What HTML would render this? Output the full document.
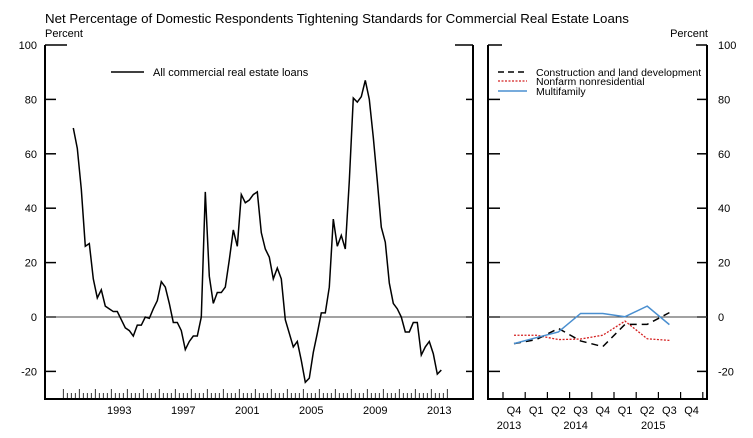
<!DOCTYPE html>
<html><head><meta charset="utf-8"><style>
body{margin:0;background:#fff;}
svg{display:block;font-family:"Liberation Sans",Arial,sans-serif;}
</style></head><body>
<svg id="chart" width="753" height="438" viewBox="0 0 753 438">
<text x="45" y="23" font-size="13.3">Net Percentage of Domestic Respondents Tightening Standards for Commercial Real Estate Loans</text>
<text x="45" y="37" font-size="11">Percent</text>
<text x="708" y="37" font-size="11" text-anchor="end">Percent</text>
<g id="left"></g>
<g id="right"></g>
<g>
<line x1="111" y1="72" x2="144" y2="72" stroke="#000" stroke-width="1.5"/>
<text x="153" y="76" font-size="11">All commercial real estate loans</text>
</g>
<g>
<line x1="498" y1="72" x2="527" y2="72" stroke="#000" stroke-width="1.5" stroke-dasharray="6,4"/>
<text x="536" y="76" font-size="10.5">Construction and land development</text>
<line x1="498" y1="81" x2="527" y2="81" stroke="#d42020" stroke-width="1.3" stroke-dasharray="2,1.5"/>
<text x="536" y="85" font-size="10.5">Nonfarm nonresidential</text>
<line x1="498" y1="91" x2="527" y2="91" stroke="#4a8fd0" stroke-width="1.5"/>
<text x="536" y="95" font-size="10.5">Multifamily</text>
</g>
</svg>
<script>
const allLoans=[69.5,62,47,26,27,14,7,10,4,3,2,2,-1,-4,-5,-7,-3,-3,0,-0.5,3,6,13,11,5,-2,-2,-5,-12,-9,-7,-7,0,46,15,5,9,9,11,21,32,26,45,42,43,45,46,31,25,22,14,18,14,-1,-6,-11,-9,-16,-24,-22.5,-13,-6,1.5,1.5,11,36,26,30,25,50,80.5,79,81,87,80,66,50,33,27.5,12.5,5,3,0,-5.5,-5.5,-2,-2,-14,-11,-9,-13.5,-21,-19.5];
const startYear=1990.625;
const yearLabels=[1993,1997,2001,2005,2009,2013];
const yTicks=[-20,0,20,40,60,80,100];
const quarters=["Q4","Q1","Q2","Q3","Q4","Q1","Q2","Q3","Q4"];
const construction=[-9.8,-8.3,-4.2,-8.8,-10.9,-2.7,-2.7,1.6];
const nonfarm=[-6.7,-6.7,-8.3,-8.1,-6.7,-1.5,-8,-8.6];
const multifamily=[-9.8,-7.6,-5.5,1.3,1.3,0.1,4,-2.8];
const NS="http://www.w3.org/2000/svg";
function el(p,t,a){const e=document.createElementNS(NS,t);for(const k in a)e.setAttribute(k,a[k]);p.appendChild(e);return e;}
const y=v=>317-v*2.72;
const L=document.getElementById('left'),R=document.getElementById('right');
const lx0=45,lx1=473,yTop=45,bot=399;
const xL=t=>63.3+(t-1990)*16;
let ax=el(L,'path',{d:`M${lx0},${yTop}V${bot}H${lx1}V${yTop}`,fill:'none',stroke:'#000','stroke-width':2});


yTicks.forEach(v=>{
 const len=v===100?22:11;
 let t1=el(L,'line',{x1:lx0,x2:lx0+len,y1:y(v),y2:y(v),stroke:'#000','stroke-width':1.5});
 
 
 el(L,'line',{x1:lx1,x2:lx1-(v===100?18:7),y1:y(v),y2:y(v),stroke:'#000','stroke-width':1.5});
 let tx=el(L,'text',{x:37,y:y(v)+4,'font-size':11,'text-anchor':'end'});tx.textContent=v;
 
 
});
el(L,'line',{x1:lx0,x2:lx1,y1:y(0),y2:y(0),stroke:'#444','stroke-width':1});
for(let i=0;i<=96;i++){const x=63.3+i*4;el(L,'line',{x1:x,x2:x,y1:bot,y2:bot-(i%4===0?10:6),stroke:'#000','stroke-width':0.8});}
yearLabels.forEach(yr=>{let tx=el(L,'text',{x:xL(yr+0.5),y:414,'font-size':11,'text-anchor':'middle'});tx.textContent=yr;
 
 });
let pl=el(L,'polyline',{points:allLoans.map((v,i)=>`${xL(startYear+i*0.25)},${y(v)}`).join(' '),fill:'none',stroke:'#000','stroke-width':1.5});


const rx0=488,rx1=707;
const qx=i=>514+i*22.2;
let ax2=el(R,'path',{d:`M${rx0},${yTop}V${bot}H${rx1}V${yTop}`,fill:'none',stroke:'#000','stroke-width':2});


yTicks.forEach(v=>{
 el(R,'line',{x1:rx0,x2:rx0+(v===100?14:12),y1:y(v),y2:y(v),stroke:'#000','stroke-width':1.5});
 el(R,'line',{x1:rx1,x2:rx1-(v===100?11:10),y1:y(v),y2:y(v),stroke:'#000','stroke-width':1.5});
 let tx=el(R,'text',{x:718,y:y(v)+4,'font-size':11});tx.textContent=v;
 
 
});
el(R,'line',{x1:rx0,x2:rx1,y1:y(0),y2:y(0),stroke:'#444','stroke-width':1});
for(let i=0;i<10;i++){const x=qx(i)-11;el(R,'line',{x1:x,x2:x,y1:bot,y2:bot-7,stroke:'#000','stroke-width':1.2});}
quarters.forEach((q,i)=>{let tx=el(R,'text',{x:qx(i),y:414,'font-size':11,'text-anchor':'middle'});tx.textContent=q;
 
 });
[["2013",0],["2014",3],["2015",6.5]].forEach(([t,i])=>{let tx=el(R,'text',{x:qx(i)-5,y:429,'font-size':11,'text-anchor':'middle'});tx.textContent=t;
 
 });
function line(data,attrs,name){let p=el(R,'polyline',Object.assign({points:data.map((v,i)=>`${qx(i)},${y(v)}`).join(' '),fill:'none'},attrs));
 
 }
line(nonfarm,{stroke:'#d42020','stroke-width':1.3,'stroke-dasharray':'2,1.5'},'nonfarm-line');
line(construction,{stroke:'#000','stroke-width':1.5,'stroke-dasharray':'7,5'},'construction-line');
line(multifamily,{stroke:'#4a8fd0','stroke-width':1.5},'multifamily-line');
</script>
</body></html>
